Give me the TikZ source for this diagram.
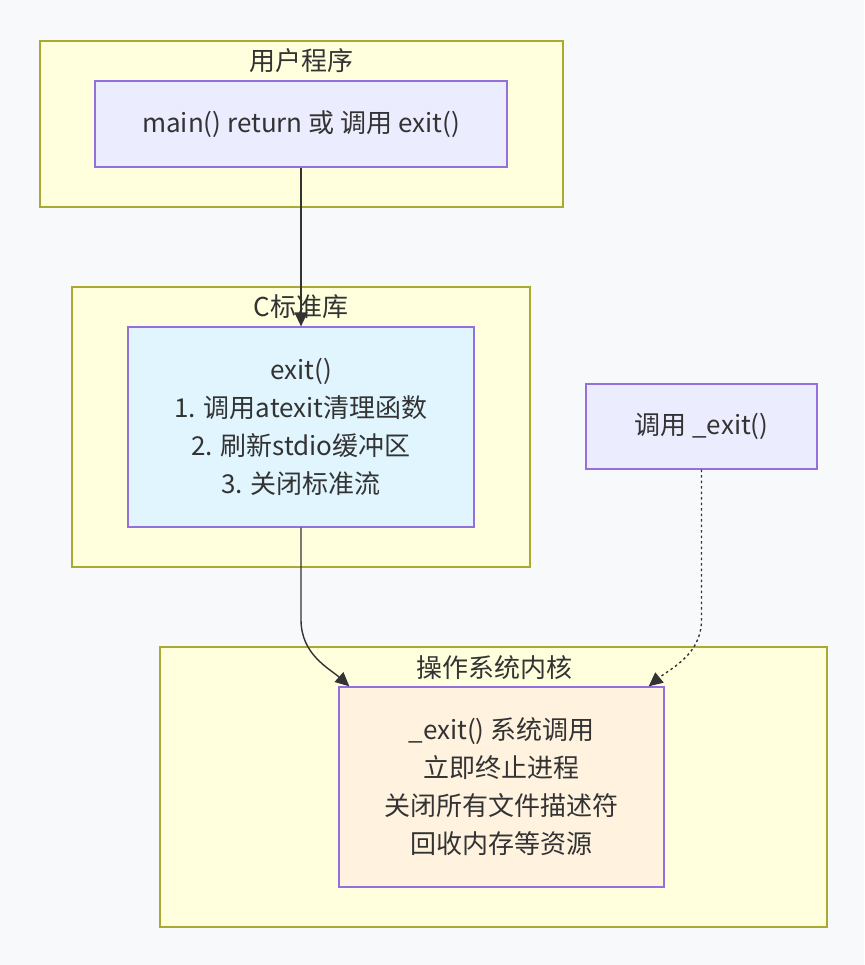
\documentclass[tikz,border=0pt]{standalone}
\usepackage{fontspec}
\setmainfont{Noto Sans CJK SC}
\usetikzlibrary{arrows.meta,calc}
\definecolor{bg}{HTML}{F8F9FB}
\definecolor{clfill}{HTML}{FFFFDE}
\definecolor{cldraw}{HTML}{AAAA33}
\definecolor{ndfill}{HTML}{ECECFF}
\definecolor{nddraw}{HTML}{9370DB}
\definecolor{bluefill}{HTML}{E1F5FE}
\definecolor{orfill}{HTML}{FFF3E0}
\definecolor{txt}{HTML}{333333}
\tikzset{
  cluster/.style={draw=cldraw,fill=clfill,line width=1.3pt,inner sep=0pt},
  box/.style={draw=nddraw,fill=ndfill,line width=1.3pt,inner sep=0pt,align=center,text=txt,font=\fontsize{26}{38}\selectfont},
  ctitle/.style={text=txt,font=\fontsize{26}{28}\selectfont,inner sep=0pt},
  arr/.style={draw=txt,line width=1.4pt,-{Triangle[length=14pt,width=13pt]}},
  dotarr/.style={arr,dash pattern=on 2.5pt off 3pt}
}
\begin{document}
\begin{tikzpicture}[x=1pt,y=-1pt]
\fill[bg] (0,0) rectangle (864,965);
\useasboundingbox (0,0) rectangle (864,965);
% clusters
\node[cluster,minimum width=523pt,minimum height=166pt] (c1) at (301.5,124) {};
\node[ctitle] (t1) at (301.5,61) {用户程序};
\node[cluster,minimum width=458pt,minimum height=280pt] (c2) at (301,427) {};
\node[ctitle] (t2) at (301,307) {C标准库};
\node[cluster,minimum width=667pt,minimum height=280pt] (c3) at (493.5,787) {};
\node[ctitle] (t3) at (494,668) {操作系统内核};
% nodes
\node[box,minimum width=412pt,minimum height=86pt] (main) at (301,124) {main() return 或 调用 exit()};
\node[box,fill=bluefill,minimum width=346pt,minimum height=200pt] (exit) at (301,427)
  {exit()\\1. 调用atexit清理函数\\2. 刷新stdio缓冲区\\3. 关闭标准流};
\node[box,minimum width=231pt,minimum height=85pt] (call) at (701.5,426.5) {调用 \_exit()};
\node[box,fill=orfill,minimum width=325pt,minimum height=200pt] (os) at (501.5,787)
  {\_exit() 系统调用\\立即终止进程\\关闭所有文件描述符\\回收内存等资源};
% edges
\coordinate (e2a) at ($(exit.south)+(0,92)$);
\coordinate (e2t) at ($(os.north west)+(11,0)$);
\coordinate (e3a) at ($(call.south)+(0,150)$);
\coordinate (e3t) at ($(os.north east)+(-16,0)$);
\draw[arr] (main.south) -- (exit.north);
\draw[arr] (exit.south) -- (e2a) .. controls ($(e2a)+(0,35)$) and ($(e2t)+(-20,-18)$) .. (e2t);
\draw[dotarr] (call.south) -- (e3a) .. controls ($(e3a)+(0,35)$) and ($(e3t)+(22,-18)$) .. (e3t);
\end{tikzpicture}
\end{document}
